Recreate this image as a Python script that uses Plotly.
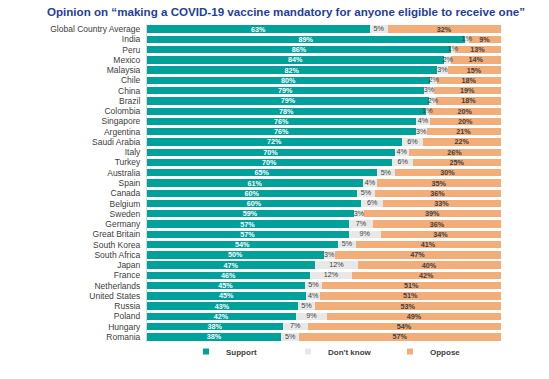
import plotly.graph_objects as go

countries = ["Global Country Average", "India", "Peru", "Mexico", "Malaysia", "Chile", "China",
             "Brazil", "Colombia", "Singapore", "Argentina", "Saudi Arabia", "Italy", "Turkey",
             "Australia", "Spain", "Canada", "Belgium", "Sweden", "Germany", "Great Britain",
             "South Korea", "South Africa", "Japan", "France", "Netherlands", "United States",
             "Russia", "Poland", "Hungary", "Romania"]
support = [63, 89, 86, 84, 82, 80, 79, 79, 78, 76, 76, 72, 70, 70, 65, 61, 60, 60, 59, 57, 57,
           54, 50, 47, 46, 45, 45, 43, 42, 38, 38]
dont_know = [5, 1, 1, 2, 3, 2, 3, 2, 1, 4, 3, 6, 4, 6, 5, 4, 5, 6, 3, 7, 9, 5, 3, 12, 12, 5, 4,
             5, 9, 7, 5]
oppose = [32, 9, 13, 14, 15, 18, 19, 18, 20, 20, 21, 22, 26, 25, 30, 35, 36, 33, 39, 36, 34,
          41, 47, 40, 42, 51, 51, 53, 49, 54, 57]

FONT = "Liberation Sans, Arial"
colors = {"Support": "#00A19B", "Don't know": "#E8E8E8", "Oppose": "#F2AD79"}

fig = go.Figure()
# Support and Oppose bars carry their own labels
for name, vals, tfont in [
    ("Support", support, dict(color="white", size=7.2, family=FONT, weight="bold")),
    ("Don't know", dont_know, None),
    ("Oppose", oppose, dict(color="#404040", size=7.2, family=FONT, weight="bold")),
]:
    kw = {}
    if tfont is not None:
        kw = dict(text=[f"{v}%" for v in vals], textposition="inside",
                  insidetextanchor="middle", textangle=0, textfont=tfont,
                  constraintext="none")
    fig.add_trace(go.Bar(
        y=countries, x=vals, orientation="h", name=name,
        marker=dict(color=colors[name], line=dict(width=0)),
        cliponaxis=False, showlegend=False, hoverinfo="skip", **kw,
    ))

# Don't know labels placed at the middle of their (normalised) segment
dk_mid = [(s + d / 2) / (s + d + o) * 100 for s, d, o in zip(support, dont_know, oppose)]
fig.add_trace(go.Scatter(
    x=dk_mid, y=countries, mode="text", text=[f"{v}%" for v in dont_know],
    textposition="middle center", textfont=dict(color="#404040", size=7.2, family=FONT),
    showlegend=False, hoverinfo="skip", cliponaxis=False,
))

for name in ["Support", "Don't know", "Oppose"]:
    fig.add_trace(go.Scatter(
        x=[None], y=[None], mode="markers", name=name,
        marker=dict(symbol="square", size=6, color=colors[name]),
        showlegend=True, hoverinfo="skip",
    ))

n = len(countries)
fig.update_layout(
    width=549, height=379,
    barmode="stack", barnorm="percent", bargap=0.28,
    paper_bgcolor="white", plot_bgcolor="white",
    margin=dict(l=147, r=48, t=24, b=37, autoexpand=False),
    font=dict(family=FONT, color="#404040"),
    title=dict(
        text="Opinion on \u201cmaking a COVID-19 vaccine mandatory for anyone eligible to receive one\u201d",
        x=286 / 549, xanchor="center", xref="container", y=1 - 12 / 379, yanchor="middle", yref="container",
        font=dict(family=FONT, size=11.6, color="#1F3F9A", weight="bold"),
    ),
    uniformtext=dict(minsize=7.2, mode="show"),
    xaxis=dict(visible=False, range=[0, 100.05], fixedrange=True),
    yaxis=dict(
        type="category", range=[n - 0.5, -0.5], fixedrange=True,
        tickmode="array", tickvals=countries, ticktext=countries,
        showgrid=False, zeroline=False,
        showline=True, linecolor="#D9D9D9", linewidth=1,
        ticks="", ticklabelstandoff=4,
        tickfont=dict(size=8.5, color="#404040"),
    ),
    legend=dict(
        orientation="h", x=(186 - 147) / 354, xref="paper", xanchor="left",
        y=-0.03, yanchor="middle", traceorder="normal",
        font=dict(size=8, color="#404040", weight="bold"),
        entrywidth=57, entrywidthmode="pixels",
        itemclick=False, itemdoubleclick=False,
        bgcolor="rgba(0,0,0,0)",
    ),
)

fig.write_html("out.html", config={"displayModeBar": False},
               post_script="document.body.style.margin='0';")
